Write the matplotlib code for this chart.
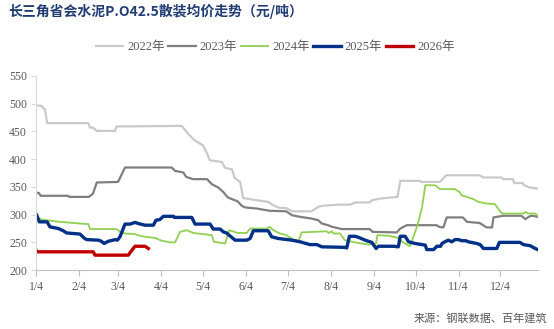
import numpy as np
import matplotlib
matplotlib.use("Agg")
import matplotlib.pyplot as plt
from matplotlib import rcParams

rcParams['font.family'] = ['Liberation Serif', 'Noto Sans CJK SC']

# x = days counted from Jan 4, one curve per year
months = ['1/4', '2/4', '3/4', '4/4', '5/4', '6/4', '7/4', '8/4', '9/4', '10/4', '11/4', '12/4']
month_days = [0, 31, 59, 90, 120, 151, 181, 212, 243, 273, 304, 334]

d22 = [0, 4, 6.5, 8, 37.6, 38.8, 41, 43.6, 56.8, 58, 104.8, 109, 114, 120, 123, 125,
       133.6, 136, 140.8, 143, 146.8, 149, 158.8, 167, 170.6, 175.5, 180, 184, 198, 203,
       206, 217, 226, 229.5, 240, 241.5, 247.5, 260, 262, 276, 277, 290.6, 295, 319, 322,
       335, 336, 343, 344, 350, 351, 355, 361]
v22 = [497, 496, 489, 465, 465, 457, 457, 451, 451, 459, 460, 447, 434, 425, 411, 398,
       395, 384, 382, 366, 359, 330, 326, 323, 317, 312, 312, 306, 306, 314,
       316, 318, 318, 322, 322, 326, 329, 332, 361, 361, 359, 359, 371, 371, 367,
       367, 364, 364, 357, 357, 353, 349, 347]

d23 = [0, 2, 3.4, 23, 24, 38, 41, 43.7, 59, 64, 97.6, 100, 106, 108, 113, 123, 126.4,
       131, 134.6, 138, 142, 145, 148, 150.4, 158.8, 168, 180, 184, 190, 198, 203, 205.5,
       210, 213, 220, 240, 242, 259.5, 262, 266.7, 288, 290, 292, 293, 295.4, 307, 310,
       319, 324, 328, 329, 336, 349, 352, 355, 357, 361]
v23 = [340, 339, 334, 334, 332, 332, 338, 358, 359, 385, 385, 379, 376, 368, 364, 364, 355,
       349, 341, 331, 327, 324, 316, 313, 311, 307, 306, 299, 296, 293, 290, 284,
       281, 278, 274, 274, 269, 268, 275, 281, 281, 278, 277, 277, 295, 295, 287,
       285, 277, 277, 295, 298, 298, 292, 297, 298, 296]

d24 = [0, 4, 11, 17, 22, 31.6, 37.6, 38.8, 58, 60.4, 64, 71, 76, 85.6, 90.4, 96.4, 100,
       103.6, 108.4, 113, 126.4, 128, 136, 139, 145, 151.6, 154, 166, 168, 170.8, 175.5,
       180, 185, 189, 191, 209, 210.5, 212.7, 214, 218.7, 222, 229.5, 234, 240, 244.6,
       245.5, 253.5, 257, 259.5, 264, 269, 274, 277.5, 280, 287, 290.6, 301.4, 305, 306,
       314.6, 318, 324, 330, 335, 350.6, 352, 354, 359, 361]
v24 = [297, 291, 289, 287, 286, 284, 283, 274, 274, 269, 266, 265, 261, 258, 253, 250, 250,
       269, 272, 267, 263, 251, 248, 272, 267, 267, 275, 275, 278, 272, 266,
       263, 255, 253, 268, 270, 267, 270, 266, 266, 254, 250, 248, 246, 248,
       263, 262, 260, 259, 250, 243, 278, 311, 353, 353, 346, 346, 340, 335,
       328, 323, 320, 319, 302, 302, 305, 302, 302, 298]

d25 = [0.5, 2.4, 8, 10, 16, 19.6, 22, 31.6, 35, 36.5, 45, 47, 49, 52, 57, 58.5, 60.4, 64,
       67.6, 71.2, 75, 78.4, 84.4, 86.3, 89, 91.6, 98.8, 99.5, 112, 114.4, 125.2, 127.5,
       132.4, 134.7, 137, 140.8, 143.2, 151.6, 154, 156.3, 167, 169.5, 174.3, 184, 190,
       197, 202, 205.5, 222.3, 223.5, 225.4, 229.5, 232, 236.7, 241.5, 244.6, 246.3, 257,
       260.6, 262, 265.5, 268, 272.7, 280, 281, 286, 288.3, 291, 292, 294, 296.6, 299,
       301.4, 304, 306, 309, 311, 317, 319.4, 321.8, 331.4, 333.3, 348, 350.6, 355.4,
       359, 361]
v25 = [299, 287, 287, 278, 275, 271, 267, 265, 257, 255, 254, 252, 248, 252, 255, 254, 260, 283,
       283, 286, 283, 281, 281, 290, 291, 297, 297, 295, 295, 283, 283, 274,
       274, 269, 267, 259, 254, 254, 257, 271, 271, 260, 257, 254, 251,
       246, 246, 242, 241, 240, 261, 261, 259, 254, 250, 239, 243, 243,
       242, 261, 261, 251, 248, 245, 237, 237, 243, 243, 248, 251, 254, 251,
       255, 255, 253, 253, 251, 248, 246, 239, 239, 250, 250, 246, 244,
       239, 237]

d26 = [0, 1, 41.2, 42.4, 66.4, 69, 71.2, 78.4, 79.6, 80.8]
v26 = [236, 233, 233, 227, 227, 236, 243, 243, 241, 239]

series = [
    ('2022年', d22, v22, '#c9c9c9', 1.6),
    ('2023年', d23, v23, '#7f7f7f', 1.6),
    ('2024年', d24, v24, '#92d050', 1.3),
    ('2025年', d25, v25, '#003087', 2.4),
    ('2026年', d26, v26, '#c00000', 2.4),
]

fig = plt.figure(figsize=(5.54, 3.29), dpi=100)
ax = fig.add_axes([0.065, 0.179, 0.906, 0.590])

for name, d, v, c, lw in series:
    ax.plot(d, v, color=c, lw=lw, label=name, solid_joinstyle='round')

ax.set_xlim(0, 361)
ax.set_ylim(200, 550)
ax.set_yticks(np.arange(200, 551, 50))
ax.set_xticks(month_days)
ax.set_xticklabels(months)

for s in ['top', 'right']:
    ax.spines[s].set_visible(False)
ax.spines['left'].set_color('#d9d9d9')
ax.spines['bottom'].set_color('#bfbfbf')
ax.tick_params(axis='y', colors='#d9d9d9', labelcolor='#595959', labelsize=8.5,
               length=3.5, pad=3)
ax.tick_params(axis='x', colors='#bfbfbf', labelcolor='#595959', labelsize=8.5,
               length=4, pad=4)

fig.legend(loc='center', bbox_to_anchor=(0.497, 0.857), ncol=5, frameon=False,
           fontsize=9, handlelength=2.2, handletextpad=0.3, columnspacing=0.3,
           labelcolor='#595959')

fig.text(0.014, 0.964, '长三角省会水泥P.O42.5散装均价走势（元/吨）',
         family=['Noto Sans CJK SC'], fontsize=10, fontweight='bold',
         color='#1f3c73', va='center', ha='left')
fig.text(0.988, 0.033, '来源：钢联数据、百年建筑', family=['Noto Sans CJK SC'],
         fontsize=8, color='#595959', va='center', ha='right')

fig.savefig('out.png', dpi=100)
